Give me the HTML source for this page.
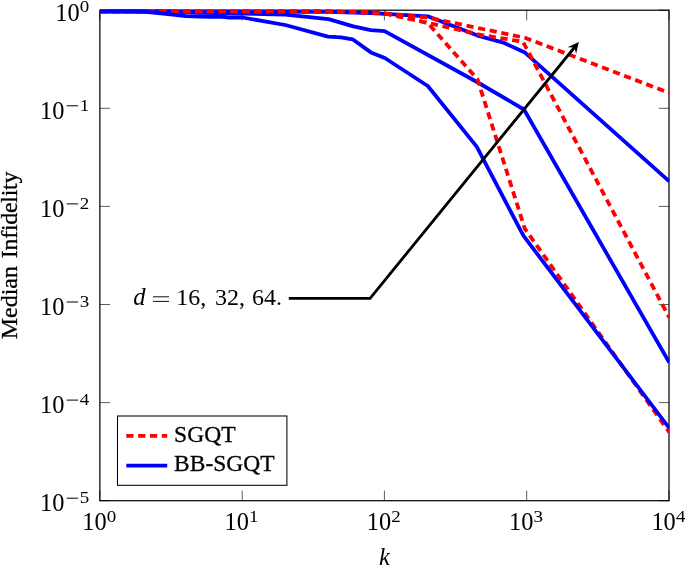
<!DOCTYPE html>
<html><head><meta charset="utf-8"><style>
html,body{margin:0;padding:0;background:#fff;}
svg{display:block;}
text{font-family:"Liberation Serif",serif;fill:#000;}
.tw{stroke:#000;stroke-width:0.3px;}
</style></head><body>
<div style="will-change:transform;width:685px;height:566px;overflow:hidden;background:#fff">
<svg width="685" height="566" viewBox="0 0 685 566">
<rect width="685" height="566" fill="#fff"/>
<g stroke="#000" stroke-width="0.64" fill="none">
<path d="M99.9,500.7 v-10.2 M99.9,10.2 v10.2"/>
<path d="M242.2,500.7 v-10.2 M242.2,10.2 v10.2"/>
<path d="M384.4,500.7 v-10.2 M384.4,10.2 v10.2"/>
<path d="M526.7,500.7 v-10.2 M526.7,10.2 v10.2"/>
<path d="M669.0,500.7 v-10.2 M669.0,10.2 v10.2"/>
<path d="M99.87,10.2 h10.2 M669.0,10.2 h-10.2"/>
<path d="M99.87,108.3 h10.2 M669.0,108.3 h-10.2"/>
<path d="M99.87,206.4 h10.2 M669.0,206.4 h-10.2"/>
<path d="M99.87,304.5 h10.2 M669.0,304.5 h-10.2"/>
<path d="M99.87,402.6 h10.2 M669.0,402.6 h-10.2"/>
<path d="M99.87,500.7 h10.2 M669.0,500.7 h-10.2"/>
</g>
<rect x="99.87" y="10.2" width="569.13" height="490.5" fill="none" stroke="#000" stroke-width="1.22"/>
<defs><clipPath id="c"><rect x="97.87" y="7.199999999999999" width="571.6" height="493.5"/></clipPath></defs>
<g clip-path="url(#c)" fill="none" stroke-width="3.8" stroke-linejoin="round">
<path d="M100.2,11.3 L328.0,11.8 L371.0,13.0 L384.8,13.8 L427.8,16.3 L477.6,35.6 L502.5,42.3 L524.4,52.2 L669.3,181.3" stroke="#00f"/>
<path d="M100.2,11.3 L168.0,11.5 L199.7,12.8 L242.5,13.5 L285.3,14.7 L328.5,19.2 L353.3,26.3 L370.8,30.1 L384.6,31.2 L477.0,82.0 L524.0,109.5 L669.3,362.6" stroke="#00f"/>
<path d="M100.2,11.3 L328.0,11.5 L371.0,12.5 L384.8,13.5 L427.6,17.5 L525.0,37.8 L669.3,92.9" stroke="#f00" stroke-dasharray="7.2 4.65"/>
<path d="M100.2,11.3 L328.0,11.5 L371.0,12.5 L384.8,13.5 L427.6,22.8 L480.7,34.8 L523.0,41.8 L669.3,317.6" stroke="#f00" stroke-dasharray="7.2 4.65"/>
<path d="M100.2,11.3 L328.0,11.5 L371.0,12.5 L384.8,13.5 L427.6,22.8 L477.5,79.3 L524.8,228.6 L669.3,432.3" stroke="#f00" stroke-dasharray="7.2 4.65"/>
<path d="M100.2,11.3 L143.0,11.5 L168.1,14.0 L185.9,16.2 L199.7,16.5 L210.9,16.9 L220.5,16.5 L228.7,17.5 L242.5,17.5 L285.3,25.0 L328.0,36.7 L341.0,37.3 L352.6,39.3 L370.9,52.4 L384.8,58.0 L427.8,86.0 L476.7,146.6 L523.4,235.7 L669.3,428.1" stroke="#00f"/>
</g>
<path d="M288.8,298.3 L370.1,298.3 L575.01,46.75" fill="none" stroke="#000" stroke-width="2.8" stroke-linejoin="miter"/>
<path d="M578.8,42.1 L576.12,54.10 L574.44,47.45 L567.59,47.15 Z" fill="#000"/>
<text x="133.2" y="305" font-size="24.6" font-style="italic">d</text>
<path d="M153,296.8 h16 M153,301.4 h16" stroke="#000" stroke-width="0.95" fill="none"/>
<text x="176.2" y="305" font-size="24">16,</text>
<text x="215.1" y="305" font-size="24">32,</text>
<text x="252.1" y="305" font-size="24">64.</text>
<rect x="117.5" y="416" width="169.4" height="69.3" fill="#fff" stroke="#000" stroke-width="1.05"/>
<path d="M126.3,435.9 h40.9" stroke="#f00" stroke-width="3.8" stroke-dasharray="7.2 4.65" fill="none"/>
<path d="M126.3,465.7 h40.9" stroke="#00f" stroke-width="3.8" fill="none"/>
<text x="174.1" y="441.5" font-size="24" class="tw" textLength="61.4" lengthAdjust="spacingAndGlyphs">SGQT</text>
<text x="174.1" y="471.4" font-size="24" class="tw" textLength="100.4" lengthAdjust="spacingAndGlyphs">BB-SGQT</text>
<text x="82.3" y="530.2" font-size="24.4">10</text><text x="106.8" y="521.8" font-size="17" textLength="9.5" lengthAdjust="spacingAndGlyphs">0</text>
<text x="224.6" y="530.2" font-size="24.4">10</text><text x="249.1" y="521.8" font-size="17" textLength="9.5" lengthAdjust="spacingAndGlyphs">1</text>
<text x="366.8" y="530.2" font-size="24.4">10</text><text x="391.3" y="521.8" font-size="17" textLength="9.5" lengthAdjust="spacingAndGlyphs">2</text>
<text x="509.1" y="530.2" font-size="24.4">10</text><text x="533.6" y="521.8" font-size="17" textLength="9.5" lengthAdjust="spacingAndGlyphs">3</text>
<text x="651.4" y="530.2" font-size="24.4">10</text><text x="675.9" y="521.8" font-size="17" textLength="9.5" lengthAdjust="spacingAndGlyphs">4</text>
<text x="55.2" y="20.8" font-size="24.4">10</text><text x="79.7" y="12.4" font-size="17" textLength="9.5" lengthAdjust="spacingAndGlyphs">0</text>
<text x="40.1" y="118.9" font-size="24.4">10</text><path d="M66.7,105.8 h11.4" stroke="#000" stroke-width="1" fill="none"/><text x="79.7" y="110.5" font-size="17" textLength="9.5" lengthAdjust="spacingAndGlyphs">1</text>
<text x="40.1" y="217.0" font-size="24.4">10</text><path d="M66.7,203.9 h11.4" stroke="#000" stroke-width="1" fill="none"/><text x="79.7" y="208.6" font-size="17" textLength="9.5" lengthAdjust="spacingAndGlyphs">2</text>
<text x="40.1" y="315.1" font-size="24.4">10</text><path d="M66.7,302.0 h11.4" stroke="#000" stroke-width="1" fill="none"/><text x="79.7" y="306.7" font-size="17" textLength="9.5" lengthAdjust="spacingAndGlyphs">3</text>
<text x="40.1" y="413.2" font-size="24.4">10</text><path d="M66.7,400.1 h11.4" stroke="#000" stroke-width="1" fill="none"/><text x="79.7" y="404.8" font-size="17" textLength="9.5" lengthAdjust="spacingAndGlyphs">4</text>
<text x="40.1" y="511.3" font-size="24.4">10</text><path d="M66.7,498.2 h11.4" stroke="#000" stroke-width="1" fill="none"/><text x="79.7" y="502.9" font-size="17" textLength="9.5" lengthAdjust="spacingAndGlyphs">5</text>
<text x="384.4" y="565.2" font-size="24.6" font-style="italic" text-anchor="middle">k</text>
<text transform="translate(16.6,339.3) rotate(-90)" font-size="24" class="tw">Median</text>
<text transform="translate(16.6,258.2) rotate(-90)" font-size="24" class="tw" textLength="86.6" lengthAdjust="spacing">Infidelity</text>
</svg>
</div></body></html>
